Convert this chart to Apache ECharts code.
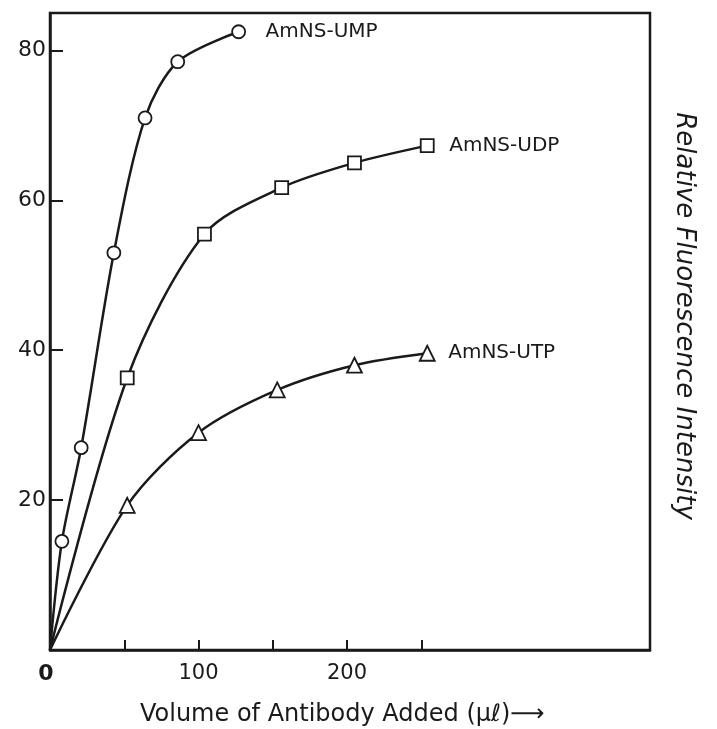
<!DOCTYPE html>
<html>
<head>
<meta charset="utf-8">
<script src="https://cdn.jsdelivr.net/npm/echarts@6/dist/echarts.min.js"></script>
<style>
  html, body { margin: 0; padding: 0; background: #fff; }
  #chart { width: 717px; height: 729px; }
</style>
</head>
<body>
<div id="chart"></div>
<script>
// values: [volume µl, relative fluorescence]
const umpPoints = [[8, 14.5], [21, 27], [43, 53], [64, 71], [86, 78.5], [127, 82.5]];
const udpPoints = [[52, 36.3], [104, 55.5], [156, 61.7], [205, 65], [254, 67.3]];
const utpPoints = [[52, 19.3], [100, 29], [153, 34.7], [205, 38], [254, 39.6]];
const seriesNames = ["AmNS-UMP", "AmNS-UDP", "AmNS-UTP"];
const seriesSymbols = ["circle", "rect", "triangle"];
const xTicks = [50, 100, 150, 200, 250];
const xTickLabels = [0, 100, 200];
const yTicks = [20, 40, 60, 80];

const INK = "#1a1a1a";
const FONT = "'DejaVu Sans', 'Liberation Sans', sans-serif";

const chart = echarts.init(document.getElementById("chart"));

function makeSeries(name, pts, symbol, gap) {
  // curve starts at the origin, which has no marker
  const data = [{ value: [0, 0], symbol: "none" }].concat(pts);
  return {
    name,
    type: "line",
    smooth: 0.3,
    data,
    symbol,
    symbolSize: symbol === "triangle" ? 15 : 13,
    showAllSymbol: true,
    lineStyle: { color: INK, width: 2.5 },
    itemStyle: { color: "#fff", borderColor: INK, borderWidth: 1.8 },
    endLabel: {
      show: true,
      formatter: name,
      color: INK,
      fontFamily: FONT,
      fontSize: 20,
      distance: gap,
    },
    emphasis: { disabled: true },
    z: 3,
  };
}

const option = {
  animation: false,
  backgroundColor: "#fff",
  grid: {
    left: 50,
    top: 13,
    right: 67,
    bottom: 79,
    show: true,
    borderColor: INK,
    borderWidth: 2.5,
  },
  xAxis: {
    type: "value",
    min: 0,
    max: 404,
    interval: 50,
    splitLine: { show: false },
    axisLine: { lineStyle: { color: INK, width: 2.5 } },
    axisTick: {
      inside: true,
      length: 10,
      customValues: xTicks,
      lineStyle: { color: INK, width: 2 },
    },
    axisLabel: {
      customValues: xTickLabels,
      margin: 13,
      color: INK,
      fontFamily: FONT,
      fontSize: 21,
      formatter: (v) => (v === 0 ? "{zero|0}" : String(v)),
      rich: {
        zero: { fontFamily: FONT, fontSize: 22, fontWeight: "bold", color: INK, padding: [0, 8, 0, 0] },
      },
    },
  },
  yAxis: {
    type: "value",
    min: 0,
    max: 85,
    interval: 20,
    splitLine: { show: false },
    axisLine: { lineStyle: { color: INK, width: 2.5 } },
    axisTick: {
      inside: true,
      length: 13,
      customValues: yTicks,
      lineStyle: { color: INK, width: 2 },
    },
    axisLabel: {
      customValues: yTicks,
      margin: 4,
      color: INK,
      fontFamily: FONT,
      fontSize: 22,
    },
  },
  series: [
    makeSeries(seriesNames[0], umpPoints, seriesSymbols[0], 27),
    makeSeries(seriesNames[1], udpPoints, seriesSymbols[1], 22),
    makeSeries(seriesNames[2], utpPoints, seriesSymbols[2], 21),
  ],
  graphic: [
    {
      type: "text",
      left: 140,
      top: 703,
      style: {
        text: "Volume of Antibody Added (μℓ)⟶",
        font: "24px " + FONT,
        fill: INK,
      },
    },
    {
      type: "text",
      x: 684,
      y: 316,
      rotation: -Math.PI / 2,
      style: {
        text: "Relative Fluorescence Intensity",
        font: "oblique 26px " + FONT,
        fill: INK,
        align: "center",
        verticalAlign: "middle",
      },
    },
  ],
};

chart.setOption(option);
</script>
</body>
</html>
